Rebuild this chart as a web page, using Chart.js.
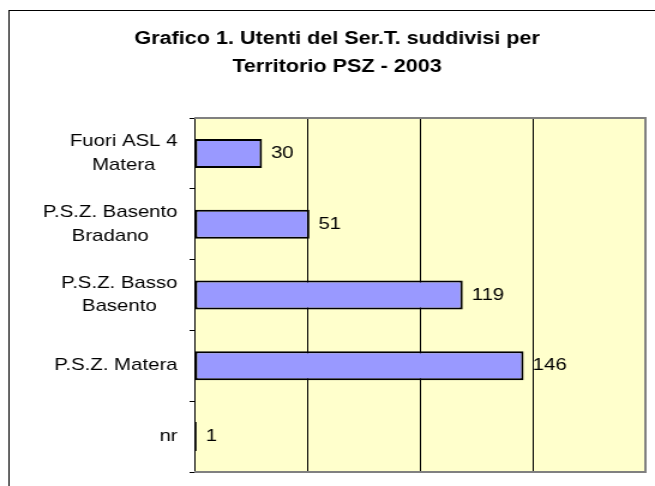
<!DOCTYPE html>
<html>
<head>
<meta charset="utf-8">
<script src="https://cdn.jsdelivr.net/npm/chart.js@4.4.0/dist/chart.umd.min.js"></script>
<style>
  body { margin: 0; background: #fff; }
</style>
</head>
<body>
<!-- the reference is stretched sideways, so the canvas is drawn narrower and scaled up -->
<canvas id="chart" width="546" height="486" style="display:block;width:655px;height:486px"></canvas>
<script>
const categories = [["Fuori ASL 4", "Matera"], ["P.S.Z. Basento", "Bradano"], ["P.S.Z. Basso", "Basento"], ["P.S.Z. Matera"], ["nr"]];
const users = [30, 51, 119, 146, 1];
const titleLines = ["Grafico 1. Utenti del Ser.T. suddivisi per", "Territorio PSZ - 2003"];
const xMax = 200;
const xStep = 50;

const FONT = '"Liberation Sans", Arial, sans-serif';

// frame, title and yellow plot area
const backdrop = {
    id: "backdrop",
    beforeDraw(chart) {
        const ctx = chart.ctx;
        const a = chart.chartArea;
        ctx.save();
        ctx.fillStyle = "#FFFFCC";
        ctx.fillRect(a.left, a.top, a.right - a.left, a.bottom - a.top);

        ctx.strokeStyle = "#000";
        ctx.lineWidth = 1;
        ctx.strokeRect(7.5, 10.5, 700, 700);

        ctx.fillStyle = "#000";
        ctx.font = "bold 18px " + FONT;
        ctx.textAlign = "center";
        ctx.textBaseline = "middle";
        titleLines.forEach((t, i) => ctx.fillText(t, 281, 39 + i * 28.5));
        ctx.restore();
    }
};

// grey plot border, category labels and bar values
const extras = {
    id: "extras",
    afterDatasetsDraw(chart) {
        const ctx = chart.ctx;
        const a = chart.chartArea;
        ctx.save();
        ctx.strokeStyle = "#808080";
        ctx.lineWidth = 2;
        ctx.beginPath();
        ctx.moveTo(a.left, a.top);
        ctx.lineTo(a.right, a.top);
        ctx.lineTo(a.right, a.bottom);
        ctx.lineTo(a.left, a.bottom);
        ctx.stroke();

        ctx.fillStyle = "#000";
        ctx.font = "17px " + FONT;
        ctx.textBaseline = "middle";

        // labels: lines centred on each other, block right-aligned
        const yScale = chart.scales.y;
        const lineH = 23.5;
        categories.forEach((lines, i) => {
            const cy = yScale.getPixelForValue(i);
            const w = Math.max(...lines.map(l => ctx.measureText(l).width));
            const cx = 148 - w / 2;
            ctx.textAlign = "center";
            lines.forEach((l, j) => {
                ctx.fillText(l, cx, cy + (j - (lines.length - 1) / 2) * lineH);
            });
        });

        // values at bar ends
        const meta = chart.getDatasetMeta(0);
        ctx.textAlign = "left";
        meta.data.forEach((bar, i) => {
            ctx.fillText(String(users[i]), bar.x + 7.5, bar.y);
        });
        ctx.restore();
    }
};

const chart = new Chart(document.getElementById("chart"), {
    type: "bar",
    data: {
        labels: categories,
        datasets: [{
            data: users,
            backgroundColor: "#9999FF",
            borderColor: "#000",
            borderWidth: 2,
            borderSkipped: false,
            categoryPercentage: 1,
            barPercentage: 0.41
        }]
    },
    options: {
        indexAxis: "y",
        responsive: false,
        animation: false,
        events: [],
        layout: { padding: { top: 118, right: 8, bottom: 14, left: 0 } },
        plugins: {
            legend: { display: false },
            tooltip: { enabled: false }
        },
        scales: {
            x: {
                min: 0,
                max: xMax,
                ticks: { stepSize: xStep, display: false },
                grid: {
                    drawTicks: false,
                    color: c => (c.tick && (c.tick.value === 0 || c.tick.value === xMax)) ? "rgba(0,0,0,0)" : "#000",
                    lineWidth: 1
                },
                border: { display: false },
                afterFit: s => { s.height = 0; }
            },
            y: {
                ticks: { display: false },
                grid: {
                    drawOnChartArea: false,
                    drawTicks: true,
                    tickLength: 4,
                    color: "#000"
                },
                border: { display: true, color: "#000", width: 1 },
                afterFit: s => { s.width = 162; }
            }
        }
    },
    plugins: [backdrop, extras]
});
</script>
</body>
</html>
